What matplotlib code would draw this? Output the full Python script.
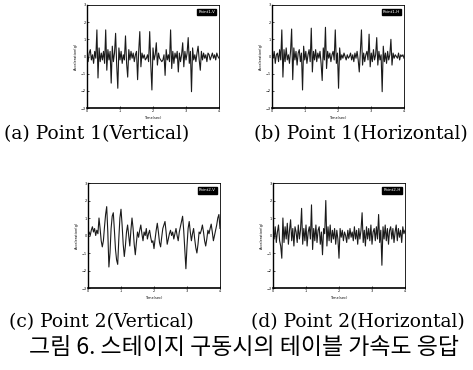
import numpy as np
import matplotlib
matplotlib.use("Agg")
import matplotlib.pyplot as plt

# acceleration traces (arbitrary units, 0..4 s)
pt1_vert = [0.1, -0.3, 0.2, 0.4, -0.2, 0.1, -0.4, 0.3, -0.1,
            1.55, -1.25, 0.5, -0.3, 0.2, -0.2, 0.3, -0.4,
            1.55, -0.8, 0.4, -0.2, 0.3,
            -1.55, 0.6, -0.3, 0.2,
            1.35, -0.5, -1.85, 0.5, -0.2, 0.3, -0.4, 0.1, -0.2,
            1.2, -0.4, -1.2, 0.4, -0.2, 0.3, -0.1, 0.2, -0.3, 0.1, 0.3,
            -1.35, 0.3, 1.45, -0.6, 0.2, -0.1, 0.1, -0.2, -0.1, 0.1, -0.3,
            1.45, -0.5, -1.95, 0.5, -0.2, 0.1,
            0.8, -0.5, 0.2, -0.1, -0.2, -0.3, -0.2, 0.1,
            -1.1, 0.4, -0.2, 0.1, -0.3,
            1.55, -0.7, 0.3, -0.4, 0.2, -0.1, 0.3,
            -0.9, 0.2, -0.3, 0.1,
            0.8, -0.6, 0.3, -0.2, 0.2,
            1.1, -0.4, 0.3, -2.05, 0.5, -0.2, 0.1, -0.3, 0.2,
            0.6, -0.2, -0.8, 0.3, -0.2, 0.2, -0.1, 0.1, -0.3, 0.2,
            0.1, -0.2, 0.0, 0.2, -0.1, 0.1, -0.2, 0.2, 0.0, -0.1]

pt1_horiz = [0.2, -0.1, 0.3, -0.4, 0.1, 0.2, -0.3, 0.4, -0.2,
             1.55, -1.2, 0.4, -0.3, 0.5, -0.2, 0.1, -0.4, 0.3,
             1.6, -1.35, 0.5, -0.2, 0.3, -0.5, 0.2, 0.4, -0.3, 0.2,
             -1.95, 0.6, -0.2, 0.3, -0.4, 0.1, 0.4, -0.3,
             1.65, -0.9, 0.3, -0.2, 0.4, -0.3, 0.2, -0.1, 0.3, -0.4,
             -1.4, 0.5, -0.2,
             1.7, -0.7, 0.3, -0.1, 0.2, -0.3, 0.1, 0.3, -0.2,
             1.55, -0.4, 0.2, -1.85, 0.5, -0.2, 0.1, -0.1, 0.2, 0.0, -0.2, 0.1,
             -0.1, 0.0, 0.2, -0.2, 0.1, -0.3, 0.2, -0.1, 0.3, -0.2,
             -0.9, 0.3, 1.55, -0.5, 0.2, -0.3, 0.1, 0.3, -0.2,
             1.3, -0.6, 0.2, -0.3, 0.4, -0.2, 0.1,
             1.1, -0.5, 0.3, -0.2, 0.1, -2.05, 0.6, -0.3, 0.2, -0.4, 0.3, -0.2, 0.1,
             1.0, -0.5, 0.2, -0.1, 0.1, 0.0, -0.1, 0.2, -0.2, 0.1, 0.0, 0.1, -0.1]

pt2_vert = [0.1, 0.2, 0.0, 0.3, 0.5, 0.2, 0.4, 0.0, 0.3, 0.1,
            1.0, 0.4, -0.3, -0.65, -0.3, 0.5, 1.2, 1.65, 0.2, -1.8,
            -1.0, 0.4, 1.1, 1.3, 0.3, -0.8, -1.4, -1.65, -0.2, 1.0,
            1.5, 0.6, -0.5, -1.2, -0.6, 0.2, 0.6, 0.0, -0.6, 0.3,
            1.0, 0.4, -0.5, -1.1, -0.4, 0.2, -0.1, 0.3, 0.6, 0.1,
            -0.3, 0.2, 0.0, 0.4, -0.2, 0.1, 0.3, -0.1, -0.4, -0.3,
            -0.75, -0.2, 0.3, 0.7, 0.2, -0.4, -0.65, -0.1, 0.4, 0.6,
            0.8, 0.2, -0.5, -0.2, 0.1, 0.3, 0.0, 0.2, -0.2, 0.1,
            0.4, 0.0, -0.3, 0.2, 0.5, 0.8, 1.1, 0.3, -0.8, -1.9,
            -0.6, 0.4, 0.8, 0.2, -0.3, 0.1, 0.4, -0.2, -0.7, -1.0,
            -0.5, 0.2, 0.1, 0.3, 0.6, 0.2, -0.3, -0.6, -0.2, 0.3,
            0.1, 0.4, 0.65, 0.2, -0.3, 0.0, 0.3, 0.6, 1.0, 1.2, 0.4]

pt2_horiz = [0.3, -0.2, 0.5, -0.4, 0.2, 0.6, -0.3, -0.6, -1.3, 1.0,
             -0.4, 0.5, -0.2, 0.7, -0.5, 0.3, 0.9, -0.3, 0.4, -0.6,
             0.5, 0.2, -0.4, 0.6, -0.2, 0.3,
             1.55, -0.5, 0.4, -0.3, 0.6, -0.6, 0.2, 0.5, -0.2,
             1.75, -0.8, 0.4, -0.3, 0.6, -0.4, 0.3, 0.5, -0.5, 0.2,
             -1.1, 0.4, 0.1, 2.0, -0.6, 0.5, -0.3, 0.6, -0.4, 0.3,
             -0.2, 0.4, -0.5, 0.3, -0.2,
             -1.3, 0.4, -0.1, 0.3, -0.3, 0.2, 0.0, -0.4, 0.3, -0.2,
             0.4, -0.1, 0.2, -0.3, 0.5, -0.2, 0.3, -0.5, 0.4, -0.2, 0.3,
             1.3, -0.4, 0.3, -0.6, 0.5, -0.2, 0.4, -0.3, 0.6, -0.5,
             0.2, 0.4, -0.3, 0.5, -0.2,
             1.2, -0.4, 0.3, -1.7, 0.5, -0.2, 0.6, -0.3, 0.4, -0.5,
             0.3, 0.5, -0.2, 0.4, -0.4, 0.2, 0.6, -0.3, 0.4, -0.1,
             0.3, -0.4, 0.5, 0.1, 0.3]

series = [pt1_vert, pt1_horiz, pt2_vert, pt2_horiz]
tags = ["Point1-V", "Point1-H", "Point2-V", "Point2-H"]
captions = ["(a) Point 1(Vertical)", "(b) Point 1(Horizontal)",
            "(c) Point 2(Vertical)", "(d) Point 2(Horizontal)"]
y_ticks = [-3, -2, -1, 0, 1, 2, 3]
x_ticks = [0, 1, 2, 3, 4]
title = "그림 6. 스테이지 구동시의 테이블 가속도 응답"

W, H = 473, 370
fig = plt.figure(figsize=(W / 100, H / 100), dpi=100)

# axes boxes in pixels: left, top, right, bottom
boxes = [(87, 5, 219, 108), (272, 5, 404, 108),
         (88, 183, 220, 288), (273, 183, 405, 288)]
cap_pos = [(97, 134), (361, 134), (101, 322), (358, 322)]

for vals, tag, cap, (l, t, r, b), (cx, cy) in zip(series, tags, captions, boxes, cap_pos):
    ax = fig.add_axes([l / W, 1 - b / H, (r - l) / W, (b - t) / H])
    tt = np.linspace(0, 4, len(vals))
    ax.plot(tt, vals, color="#1a1a1a", lw=0.8)
    ax.set_xlim(0, 4)
    ax.set_ylim(-3, 3)
    ax.set_xticks(x_ticks)
    ax.set_yticks(y_ticks)
    ax.tick_params(labelsize=2.5, length=1.5, width=0.5, pad=1, direction="in")
    for s in ax.spines.values():
        s.set_linewidth(0.6)
    ax.spines["bottom"].set_linewidth(1.2)
    ax.spines["left"].set_linewidth(1.0)
    ax.set_xlabel("Time(sec)", fontsize=2.5, labelpad=2)
    ax.set_ylabel("Acceleration(g)", fontsize=2.5, labelpad=2)
    ax.text(0.97, 0.93, tag, transform=ax.transAxes, ha="right", va="center",
            fontsize=3, color="white",
            bbox=dict(boxstyle="square,pad=0.3", facecolor="black", edgecolor="black"))
    fig.text(cx / W, 1 - cy / H, cap, ha="center", va="center",
             family="DejaVu Serif", fontsize=13.5)

fig.text(244 / W, 1 - 348 / H, title, ha="center", va="center",
         family=["Noto Sans CJK KR", "DejaVu Sans"], fontsize=16.5)

fig.savefig("out.png", dpi=100, facecolor="white")
